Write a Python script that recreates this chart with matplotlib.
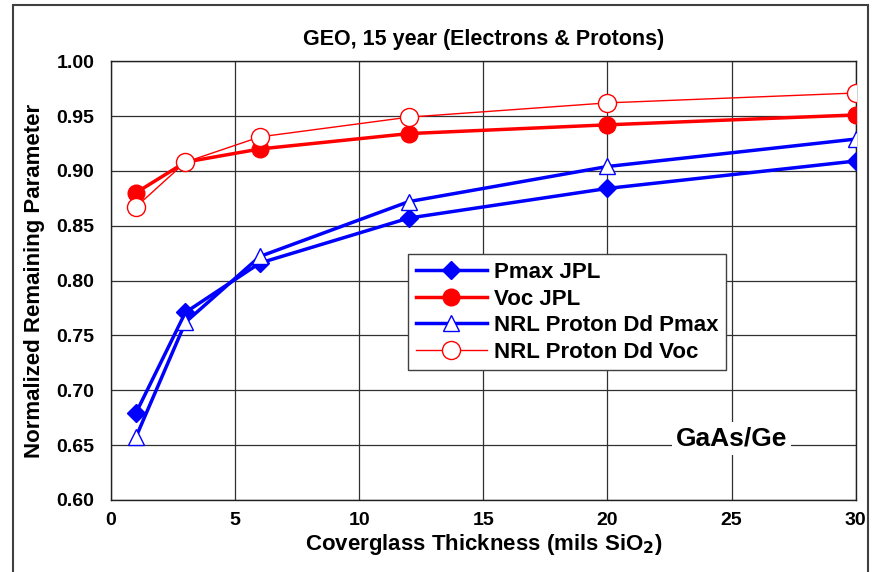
import matplotlib
matplotlib.use('Agg')
import matplotlib.pyplot as plt
from matplotlib.patches import Rectangle

plt.rcParams['font.family'] = ['Liberation Sans', 'DejaVu Sans']
plt.rcParams['font.weight'] = 'bold'

# coverglass thickness (mils SiO2)
thickness = [1, 3, 6, 12, 20, 30]

# normalized remaining parameter
pmax_jpl = [0.679, 0.771, 0.816, 0.857, 0.884, 0.909]
voc_jpl = [0.880, 0.908, 0.920, 0.934, 0.942, 0.951]
nrl_pmax = [0.657, 0.762, 0.822, 0.872, 0.904, 0.929]
nrl_voc = [0.867, 0.908, 0.931, 0.949, 0.962, 0.971]

x_ticks = [0, 5, 10, 15, 20, 25, 30]
y_ticks = [0.60, 0.65, 0.70, 0.75, 0.80, 0.85, 0.90, 0.95, 1.00]

fig = plt.figure(figsize=(8.74, 5.72), dpi=100)
ax = fig.add_axes([0.127, 0.126, 0.852, 0.767])

# outer frame around the chart area
fig.add_artist(Rectangle((13 / 874, -0.02), 855 / 874, 1 - 5 / 572 + 0.02,
                         transform=fig.transFigure, fill=False,
                         edgecolor='#404040', linewidth=1.5))

ax.plot(thickness, pmax_jpl, color='blue', lw=2.5, marker='D', ms=9,
        mfc='blue', mec='blue', label='Pmax JPL', zorder=4)
ax.plot(thickness, voc_jpl, color='red', lw=2.5, marker='o', ms=12,
        mfc='red', mec='red', label='Voc JPL', zorder=4)
ax.plot(thickness, nrl_pmax, color='blue', lw=2.5, marker='^', ms=12,
        mfc='white', mec='blue', mew=1.0, label='NRL Proton Dd Pmax', zorder=5)
ax.plot(thickness, nrl_voc, color='red', lw=1.0, marker='o', ms=13,
        mfc='white', mec='red', mew=1.0, label='NRL Proton Dd Voc', zorder=5)

ax.set_xlim(0, 30)
ax.set_ylim(0.60, 1.00)
ax.set_xticks(x_ticks)
ax.set_yticks(y_ticks)
ax.set_yticklabels([f'{v:.2f}' for v in y_ticks])
ax.tick_params(axis='x', length=0, labelsize=14, pad=9)
ax.tick_params(axis='y', length=0, labelsize=14, pad=12)
ax.grid(True, color='#303030', lw=0.9)
for s in ax.spines.values():
    s.set_color('#202020')
    s.set_linewidth(1.0)

ax.set_xlabel('Coverglass Thickness (mils SiO$_\\mathbf{2}$)', fontsize=16,
              fontweight='bold', labelpad=2)
ax.set_ylabel('Normalized Remaining Parameter', fontsize=16,
              fontweight='bold', labelpad=8)
ax.set_title('GEO, 15 year (Electrons & Protons)', fontsize=15.5,
             fontweight='bold', pad=12)

leg = ax.legend(loc='upper left', bbox_to_anchor=(0.399, 0.56), fontsize=16,
                frameon=True, fancybox=False, edgecolor='#404040',
                framealpha=1, borderpad=0.35, handlelength=3.2,
                handletextpad=0.3, labelspacing=0.25, borderaxespad=0)
leg.get_frame().set_linewidth(1.0)

ax.text(25, 0.656, 'GaAs/Ge', fontsize=19, fontweight='bold',
        ha='center', va='center', zorder=6,
        bbox=dict(facecolor='white', edgecolor='none', pad=3))

fig.savefig('out.png', dpi=100)
